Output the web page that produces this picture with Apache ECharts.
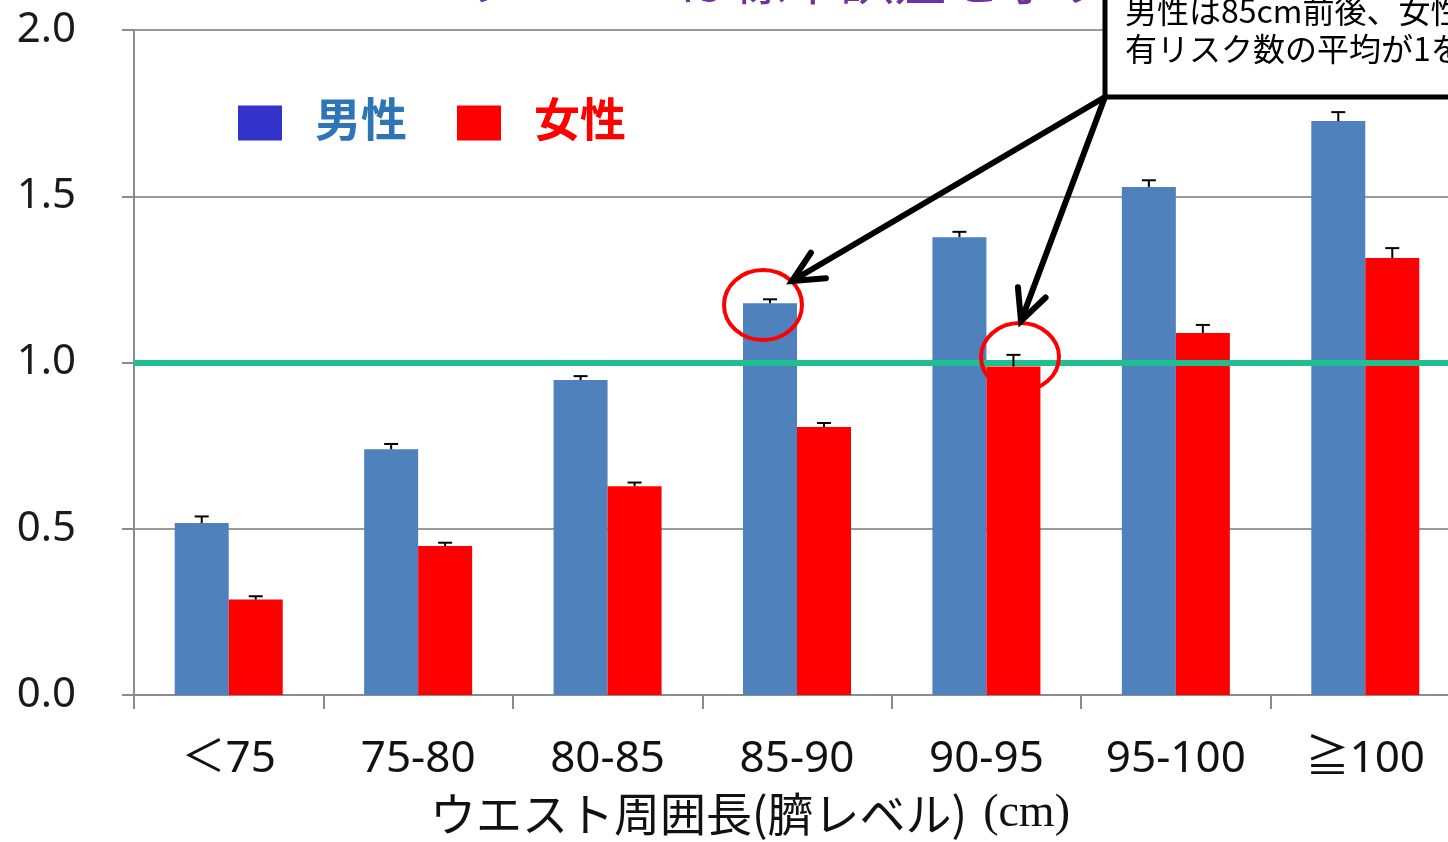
<!DOCTYPE html>
<html>
<head>
    <meta charset="utf-8">
    <title>ウエスト周囲長</title>
    <script src="https://cdn.jsdelivr.net/npm/echarts@6/dist/echarts.min.js"></script>
    <style>
        html, body { margin: 0; padding: 0; background: #fff; }
        #chart { width: 1448px; height: 842px; }
    </style>
</head>
<body>
    <div id="chart"></div>
    <script>
        // waist circumference groups
        var categories = ['＜75', '75-80', '80-85', '85-90', '90-95', '95-100', '≧100'];
        // mean number of risk factors
        var maleMean = [0.517, 0.739, 0.947, 1.178, 1.377, 1.528, 1.726];
        var femaleMean = [0.287, 0.448, 0.628, 0.806, 0.988, 1.089, 1.314];
        // standard errors (only drawn upward)
        var maleErr = [0.020, 0.016, 0.012, 0.012, 0.016, 0.020, 0.027];
        var femaleErr = [0.010, 0.010, 0.011, 0.012, 0.035, 0.024, 0.030];
        var yTicks = [0, 0.5, 1.0, 1.5, 2.0];

        var BAR_W = 54;
        var FONT = "'Noto Sans', 'Noto Sans CJK JP', sans-serif";

        // error bar drawn next to each bar; side = -1 for male, +1 for female
        function errorRenderer(side) {
            return function (params, api) {
                var i = api.value(0);
                var top = api.coord([i, api.value(1)]);
                var cap = api.coord([i, api.value(1) + api.value(2)]);
                var x = top[0] + side * BAR_W / 2;
                var style = { stroke: '#000', lineWidth: 2 };
                return {
                    type: 'group',
                    children: [
                        { type: 'line', shape: { x1: x, y1: top[1], x2: x, y2: cap[1] }, style: style },
                        { type: 'line', shape: { x1: x - 7, y1: cap[1], x2: x + 7, y2: cap[1] }, style: style }
                    ]
                };
            };
        }

        // arrow: shaft plus open head
        function arrow(sx, sy, tx, ty) {
            var a = Math.atan2(sy - ty, sx - tx);
            var len = 34, spread = 0.45;
            var w1 = [tx + len * Math.cos(a + spread), ty + len * Math.sin(a + spread)];
            var w2 = [tx + len * Math.cos(a - spread), ty + len * Math.sin(a - spread)];
            var st = { stroke: '#000', lineWidth: 6, lineCap: 'round', lineJoin: 'miter', fill: null };
            return [
                { type: 'line', z: 20, shape: { x1: sx, y1: sy, x2: tx, y2: ty }, style: st },
                { type: 'polyline', z: 20, shape: { points: [w1, [tx, ty], w2] }, style: st }
            ];
        }

        var chart = echarts.init(document.getElementById('chart'));
        var option = {
            animation: false,
            backgroundColor: '#fff',
            grid: {
                left: 134, top: 30, right: -12, bottom: 147,
                containLabel: false,
                outerBoundsMode: 'none'
            },
            legend: {
                left: 233,
                top: 95,
                icon: 'rect',
                itemWidth: 44,
                itemHeight: 35,
                itemGap: 50,
                selectedMode: false,
                textStyle: { fontSize: 46, fontWeight: 'bold', fontFamily: FONT, padding: [0, 0, 0, 28] },
                data: [
                    { name: '男性', itemStyle: { color: '#3333cc' }, textStyle: { color: '#2e75b6' } },
                    { name: '女性', itemStyle: { color: '#ff0000' }, textStyle: { color: '#ff0000' } }
                ]
            },
            xAxis: {
                type: 'category',
                data: categories,
                axisLine: { lineStyle: { color: '#8c8c8c', width: 2 } },
                axisTick: { show: true, length: 14, lineStyle: { color: '#8c8c8c', width: 2 } },
                axisLabel: { fontSize: 44, color: '#111', margin: 42, fontFamily: FONT },
                name: '{a|ウエスト周囲長(臍レベル)}{s| }{b|(cm)}',
                nameLocation: 'middle',
                nameGap: 96,
                nameTextStyle: {
                    padding: [0, 94, 0, 0],
                    rich: {
                        a: { fontSize: 46, color: '#111', fontFamily: "'Noto Sans CJK JP', sans-serif" },
                        s: { fontSize: 46, width: 16 },
                        b: { fontSize: 46, color: '#111', fontFamily: "'Liberation Serif', serif" }
                    }
                }
            },
            yAxis: {
                type: 'value',
                min: yTicks[0],
                max: yTicks[yTicks.length - 1],
                interval: 0.5,
                axisLine: { show: true, lineStyle: { color: '#8c8c8c', width: 2 } },
                axisTick: { show: true, length: 12, lineStyle: { color: '#8c8c8c', width: 2 } },
                axisLabel: {
                    fontSize: 42, color: '#1a1a1a', margin: 58, fontFamily: FONT,
                    formatter: function (v) { return v.toFixed(1); }
                },
                splitLine: { lineStyle: { color: '#9a9a9a', width: 2 } }
            },
            series: [
                {
                    name: '男性',
                    type: 'bar',
                    data: maleMean,
                    barWidth: BAR_W,
                    barGap: '0%',
                    itemStyle: { color: '#4f81bd' },
                    markLine: {
                        silent: true,
                        symbol: 'none',
                        z: 10,
                        label: { show: false },
                        lineStyle: { color: '#1fbf8f', width: 6, type: 'solid' },
                        data: [{ yAxis: 1 }]
                    }
                },
                {
                    name: '女性',
                    type: 'bar',
                    data: femaleMean,
                    barWidth: BAR_W,
                    barGap: '0%',
                    itemStyle: { color: '#ff0000' }
                },
                {
                    name: '男性SE',
                    type: 'custom',
                    z: 12,
                    renderItem: errorRenderer(-1),
                    data: maleMean.map(function (v, i) { return [i, v, maleErr[i]]; })
                },
                {
                    name: '女性SE',
                    type: 'custom',
                    z: 12,
                    renderItem: errorRenderer(1),
                    data: femaleMean.map(function (v, i) { return [i, v, femaleErr[i]]; })
                }
            ],
            graphic: [
                // title, mostly above the page edge
                {
                    type: 'text', left: 408, top: -48, z: 5,
                    style: { text: 'エラーバーは標準誤差を示す', fontSize: 54, fill: '#7030a0', fontFamily: "'Noto Sans CJK JP', sans-serif" }
                },
                // note box
                {
                    type: 'rect', z: 15,
                    shape: { x: 1105, y: -10, width: 400, height: 107 },
                    style: { fill: '#fff', stroke: '#000', lineWidth: 5 }
                },
                {
                    type: 'text', z: 16, x: 1125, y: -8,
                    style: {
                        text: '男性は85cm前後、女性は90cm前後で\n有リスク数の平均が1を超える',
                        fontSize: 32, lineHeight: 38, fill: '#000', fontFamily: "'Noto Sans CJK JP', sans-serif"
                    }
                },
                // red circles
                {
                    type: 'ellipse', z: 18,
                    shape: { cx: 763, cy: 305, rx: 39, ry: 35 },
                    style: { fill: null, stroke: '#ff0000', lineWidth: 4 }
                },
                {
                    type: 'ellipse', z: 18,
                    shape: { cx: 1020, cy: 357, rx: 39, ry: 34 },
                    style: { fill: null, stroke: '#ff0000', lineWidth: 4 }
                }
            ].concat(arrow(1105, 97, 792, 281), arrow(1105, 97, 1021, 321))
        };
        chart.setOption(option);
    </script>
</body>
</html>
